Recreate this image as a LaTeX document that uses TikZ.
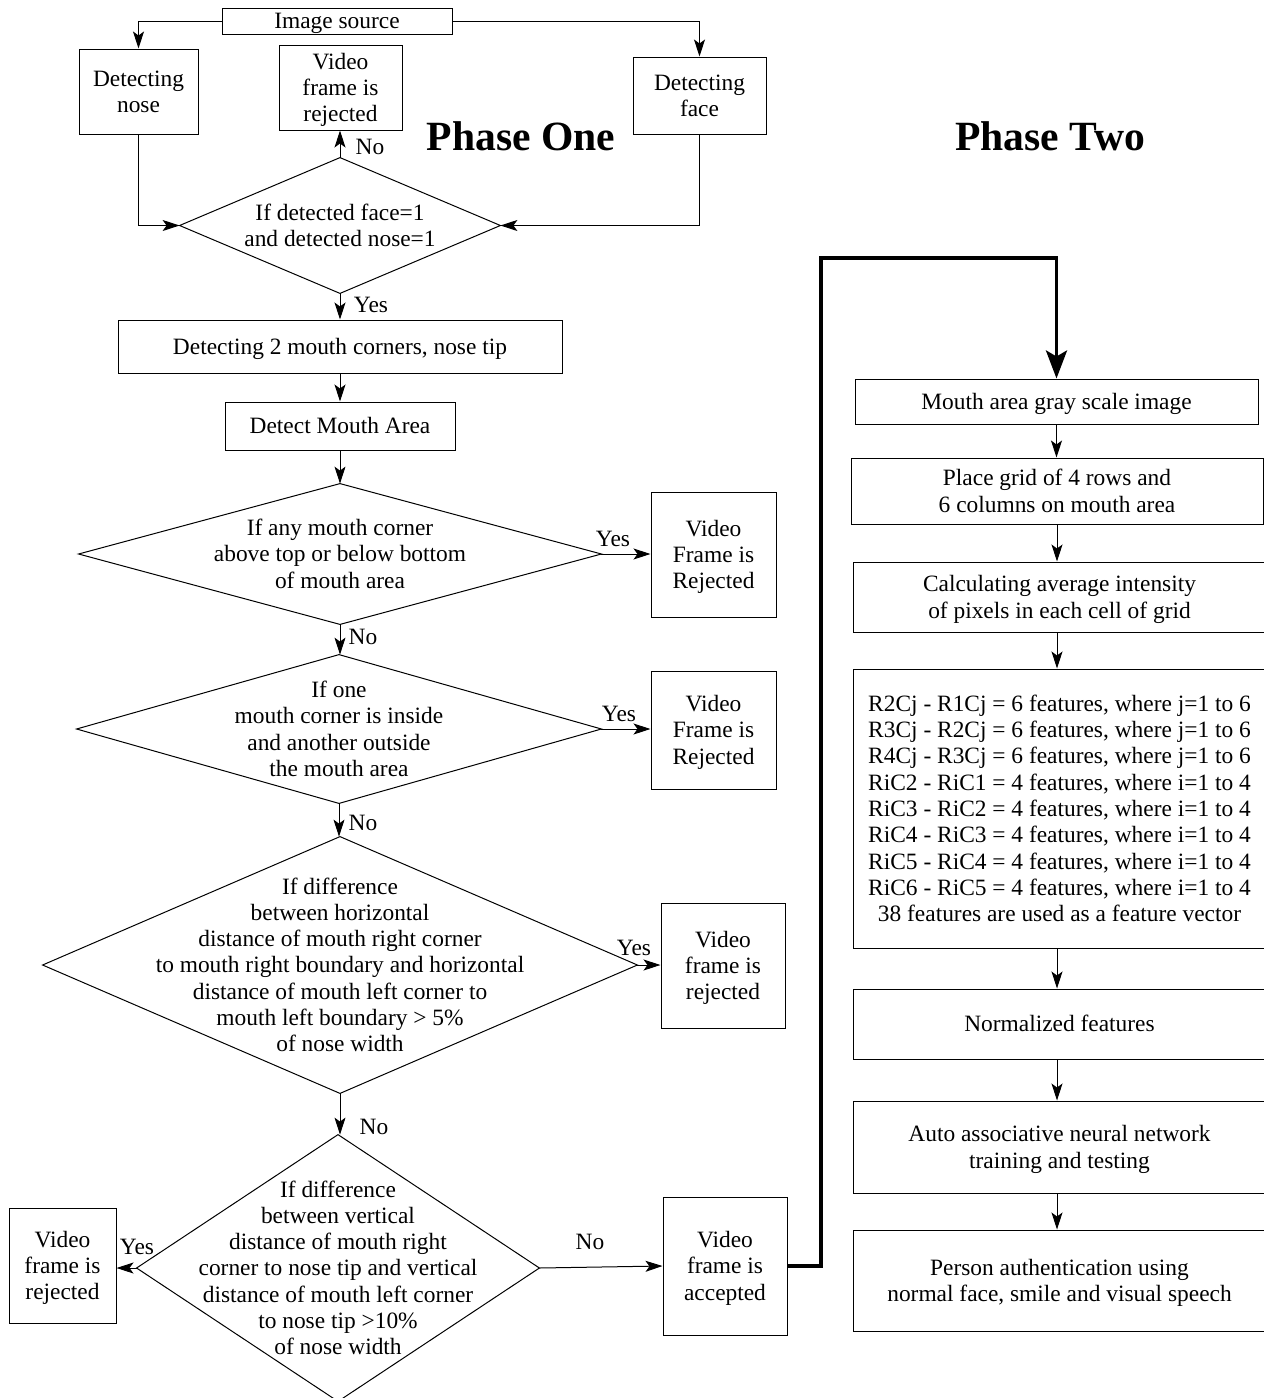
\documentclass[tikz,border=0pt]{standalone}
\usepackage{fontspec}
\setmainfont{Liberation Serif}
\usetikzlibrary{arrows.meta}
\newcommand\zstr{\rule[-0.216em]{0pt}{1.107em}}
\begin{document}
\begin{tikzpicture}[x=0.5pt,y=-0.5pt,
  font=\fontsize{11.7pt}{13.15pt}\selectfont,
  box/.style={draw, line width=0.5pt, inner sep=0pt, align=center},
  dia/.style={inner sep=0pt, align=center},
  diaedge/.style={line width=0.5pt},
  arr/.style={-{Stealth[length=8.5pt,width=5.5pt,inset=2pt]}, line width=0.5pt},
  bigarr/.style={-{Stealth[length=14pt,width=10.5pt,inset=3pt]}, line width=1.8pt},
  lab/.style={inner sep=0pt},
  title/.style={inner sep=0pt, anchor=base, font=\bfseries\fontsize{20.8pt}{24pt}\selectfont}]
\useasboundingbox (0,0) rectangle (1264,1398);
\clip (0,0) rectangle (1264,1398);

% ---------- Phase one ----------
\node[box, minimum width=115pt, minimum height=13pt] (src) at (337,21) {\zstr Image source};
\node[box, minimum width=59.5pt, minimum height=42.5pt] (nose) at (138.5,91.5) {\zstr Detecting\\nose\zstr};
\node[box, minimum width=61.5pt, minimum height=42.5pt] (rej0) at (340.5,87.5) {\zstr Video\\frame is\\rejected\zstr};
\node[box, minimum width=66.5pt, minimum height=38.5pt] (face) at (699.5,95.5) {\zstr Detecting\\face\zstr};

\node[title] (ph1) at (521,150) {Phase One};
\node[title] (ph2) at (1050,150) {Phase Two};

\node[dia, minimum width=160pt, minimum height=67.5pt] (d1) at (340,225.5) {\zstr If detected face=1\\and detected nose=1\zstr};
\draw[diaedge] (d1.north) -- (d1.east) -- (d1.south) -- (d1.west) -- cycle;

\node[box, minimum width=222pt, minimum height=26.5pt] (b1) at (340,346.5) {\zstr Detecting 2 mouth corners, nose tip};
\node[box, minimum width=115pt, minimum height=24pt] (b2) at (340,426) {\zstr Detect Mouth Area};

\node[dia, minimum width=261pt, minimum height=70pt] (d2) at (340,554) {\zstr If any mouth corner\\above top or below bottom\\of mouth area\zstr};
\draw[diaedge] (d2.north) -- (d2.east) -- (d2.south) -- (d2.west) -- cycle;
\node[box, minimum width=62.5pt, minimum height=62.5pt] (r2) at (713.5,554.5) {\zstr Video\\Frame is\\Rejected\zstr};

\node[dia, minimum width=262pt, minimum height=74pt] (d3) at (339,729) {\zstr If one\\mouth corner is inside\\and another outside\\the mouth area\zstr};
\draw[diaedge] (d3.north) -- (d3.east) -- (d3.south) -- (d3.west) -- cycle;
\node[box, minimum width=62.5pt, minimum height=59pt] (r3) at (713.5,730) {\zstr Video\\Frame is\\Rejected\zstr};

\node[dia, minimum width=297pt, minimum height=128pt] (d4) at (340,965) {\zstr If difference\\between horizontal\\distance of mouth right corner\\to mouth right boundary and horizontal\\distance of mouth left corner to\\mouth left boundary > 5\%\\of nose width\zstr};
\draw[diaedge] (d4.north) -- (d4.east) -- (d4.south) -- (d4.west) -- cycle;
\node[box, minimum width=62pt, minimum height=62.5pt] (r4) at (723,965.5) {\zstr Video\\frame is\\rejected\zstr};

\node[dia, minimum width=201pt, minimum height=133pt] (d5) at (338,1268) {\zstr If difference\\between vertical\\distance of mouth right\\corner to nose tip and vertical\\distance of mouth left corner\\to nose tip >10\%\\of nose width\zstr};
\draw[diaedge] (d5.north) -- (d5.east) -- (d5.south) -- (d5.west) -- cycle;
\node[box, minimum width=53.5pt, minimum height=57.5pt] (r5) at (62.5,1265.5) {\zstr Video\\frame is\\rejected\zstr};
\node[box, minimum width=62pt, minimum height=69pt] (acc) at (725,1266) {\zstr Video\\frame is\\accepted\zstr};

% connectors phase one
\draw[arr] (src.west) -| (nose.north);
\draw[arr] (src.east) -| (face.north);
\draw[arr] (nose.south) |- (d1.west);
\draw[arr] (face.south) |- (d1.east);
\draw[arr] (d1.north) -- (d1.north |- rej0.south);
\draw[arr] (d1.south) -- (d1.south |- b1.north);
\draw[arr] (b1.south) -- (b1.south |- b2.north);
\draw[arr] (b2.south) -- (b2.south |- d2.north);
\draw[arr] (d2.east) -- (d2.east -| r2.west);
\draw[arr] (d2.south) -- (d2.south |- d3.north);
\draw[arr] (d3.east) -- (d3.east -| r3.west);
\draw[arr] (d3.south) -- (d3.south |- d4.north);
\draw[arr] (d4.east) -- (d4.east -| r4.west);
\draw[arr] (d4.south) -- (d4.south |- d5.north);
\draw[arr] (d5.west) -- (d5.west -| r5.east);
\draw[arr] (d5.east) -- (acc.west);

\node[lab] (l1) at (370,147) {No};
\node[lab] (l2) at (371,305) {Yes};
\node[lab] (l3) at (613,539) {Yes};
\node[lab] (l4) at (363,637) {No};
\node[lab] (l5) at (619,714) {Yes};
\node[lab] (l6) at (363,823) {No};
\node[lab] (l7) at (634,948) {Yes};
\node[lab] (l8) at (374,1127) {No};
\node[lab] (l9) at (137,1247) {Yes};
\node[lab] (l10) at (590,1242) {No};

% ---------- Phase two ----------
\node[box, minimum width=201.5pt, minimum height=22.5pt] (p1) at (1056.5,401.5) {\zstr Mouth area gray scale image};
\node[box, minimum width=206pt, minimum height=33pt] (p2) at (1057,491) {\zstr Place grid of 4 rows and\\6 columns on mouth area\zstr};
\node[box, minimum width=206.5pt, minimum height=35pt] (p3) at (1059.5,597) {\zstr Calculating average intensity\\of pixels in each cell of grid\zstr};
\node[box, minimum width=206.5pt, minimum height=139.5pt] (p4) at (1059.5,808.5) {\zstr R2Cj - R1Cj = 6 features, where j=1 to 6\\R3Cj - R2Cj = 6 features, where j=1 to 6\\R4Cj - R3Cj = 6 features, where j=1 to 6\\RiC2 - RiC1 = 4 features, where i=1 to 4\\RiC3 - RiC2 = 4 features, where i=1 to 4\\RiC4 - RiC3 = 4 features, where i=1 to 4\\RiC5 - RiC4 = 4 features, where i=1 to 4\\RiC6 - RiC5 = 4 features, where i=1 to 4\\38 features are used as a feature vector\zstr};
\node[box, minimum width=206.5pt, minimum height=35pt] (p5) at (1059.5,1024) {\zstr Normalized features};
\node[box, minimum width=206.5pt, minimum height=46pt] (p6) at (1059.5,1147) {\zstr Auto associative neural network\\training and testing\zstr};
\node[box, minimum width=206.5pt, minimum height=50.5pt] (p7) at (1059.5,1280.5) {\zstr Person authentication using\\normal face, smile and visual speech\zstr};

\draw[arr] (p1.south) -- (p1.south |- p2.north);
\draw[arr] (p2.south) -- (p2.south |- p3.north);
\draw[arr] (p3.south -| p2.south) -- (p2.south |- p4.north);
\draw[arr] (p4.south -| p2.south) -- (p2.south |- p5.north);
\draw[arr] (p5.south -| p2.south) -- (p2.south |- p6.north);
\draw[arr] (p6.south -| p2.south) -- (p2.south |- p7.north);

\coordinate (c1) at (821,258);
\draw[bigarr] (acc.east) -| (c1) -| (p1.north);
\end{tikzpicture}
\end{document}
